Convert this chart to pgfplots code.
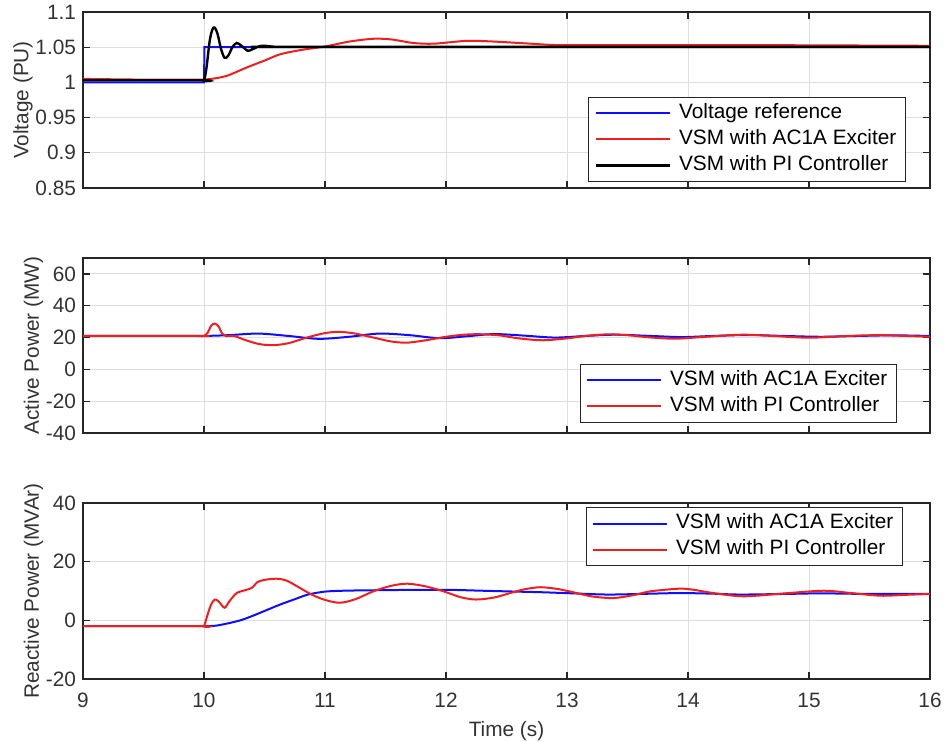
\documentclass[border=0pt]{standalone}
\usepackage{fontspec}
\setmainfont{Liberation Sans}
\usepackage{pgfplots}
\pgfplotsset{compat=1.18}
\definecolor{axgray}{gray}{0.15}
\definecolor{txtgray}{gray}{0.2}
\definecolor{gridgray}{gray}{0.87}
\definecolor{mblue}{rgb}{0.05,0.05,1}
\definecolor{mred}{rgb}{0.93,0.12,0.12}
\pgfplotsset{
  mat/.style={
    scale only axis, width=423.5pt, height=88pt,
    xmin=9, xmax=16, xtick={9,10,11,12,13,14,15,16},
    grid=major, major grid style={gridgray, line width=0.5pt},
    axis line style={axgray, line width=0.6pt},
    tick style={axgray, line width=0.6pt},
    major tick length=3.5pt,
    tick align=inside,
    font=\fontsize{10.4}{12.5}\selectfont,
    /pgf/number format/assume math mode=true,
    ticklabel style={text=txtgray, font=\fontsize{10.4}{12.5}\selectfont},
    xticklabel style={yshift=-3.5pt},
    label style={text=txtgray, font=\fontsize{10.4}{12.5}\selectfont},
    ylabel shift=-5.5pt,
    legend cell align=left,
    legend image code/.code={\draw[#1] (0pt,0pt) -- (37pt,0pt); \path (39.5pt,0pt);},
    legend style={draw=axgray, line width=0.6pt, fill=white,
      font=\fontsize{10.4}{12.5}\selectfont, inner xsep=3pt, inner ysep=1.5pt, row sep=0pt,
      nodes={inner sep=1.5pt, text height=7.6pt, text depth=2.4pt}},
    every axis plot/.append style={line width=1pt},
  },
}
\begin{document}
\begin{tikzpicture}
% ---------------- Top: Voltage ----------------
\begin{axis}[mat, at={(0,0)}, anchor=north west,
  ymin=0.85, ymax=1.1, ytick={0.85,0.9,0.95,1,1.05,1.1},
  yticklabels={0.85,0.9,0.95,1,1.05,1.1},
  xticklabels={},
  ylabel={Voltage (PU)},
  legend style={at={(1,0)}, anchor=south east, xshift=-12pt, yshift=3pt}]
\addplot[mblue] coordinates {(9,1) (10,1) (10.004,1.05) (16,1.05)};
\addlegendentry{Voltage reference}
\addplot[mred, smooth, tension=0.5] coordinates {
(9,1.005) (9.5,1.004) (9.95,1.004) (10,1.004) (10.1,1.006) (10.2,1.01) (10.35,1.021) (10.5,1.031)
(10.63,1.040) (10.8,1.046) (11.0,1.051) (11.2,1.058) (11.4,1.062) (11.55,1.061)
(11.73,1.056) (11.9,1.055) (12.17,1.059) (12.4,1.058) (12.7,1.055) (12.94,1.053)
(13.5,1.053) (14.5,1.053) (16,1.052)};
\addlegendentry{VSM with AC1A Exciter}
\addplot[black, line width=1.2pt, smooth, tension=0.55] coordinates {
(9,1.003) (9.98,1.003) (10,1.003) (10.02,1.02) (10.05,1.062) (10.08,1.078) (10.11,1.07) (10.14,1.048)
(10.17,1.035) (10.2,1.038) (10.235,1.05) (10.27,1.056) (10.31,1.052) (10.36,1.045)
(10.40,1.047) (10.45,1.051) (10.5,1.052) (10.6,1.0505) (10.8,1.0505) (16,1.0505)};
\addlegendentry{VSM with PI Controller}
\end{axis}
% ---------------- Middle: Active power ----------------
\begin{axis}[mat, at={(0,-123pt)}, anchor=north west, height=87.5pt,
  ymin=-40, ymax=70, ytick={-40,-20,0,20,40,60},
  xticklabels={},
  ylabel={Active Power (MW)},
  legend style={at={(1,0)}, anchor=south east, xshift=-16.5pt, yshift=5pt}]
\addplot[mblue, smooth, tension=0.5] coordinates {
(9,21) (9.9,21) (10,21) (10.2,21.5) (10.45,22.5) (10.7,21) (10.95,19.2) (11.2,20.5) (11.45,22.5)
(11.7,21.5) (11.95,19.6) (12.2,21) (12.4,22.2) (12.65,21.2) (12.9,20) (13.15,21)
(13.4,21.8) (13.7,21) (13.95,20.3) (14.2,21) (14.5,21.6) (14.8,21) (15.1,20.5)
(15.4,21) (15.7,21.4) (16,21)};
\addlegendentry{VSM with AC1A Exciter}
\addplot[mred, smooth, tension=0.5] coordinates {
(9,21) (9.98,21) (10,21) (10.03,23) (10.06,27.5) (10.09,28.8) (10.12,27) (10.15,22.5) (10.18,21)
(10.25,21) (10.32,19) (10.45,16) (10.57,15.2) (10.7,16.5) (10.85,20) (11.0,22.8)
(11.12,23.6) (11.25,22.5) (11.4,20) (11.55,17.5) (11.68,16.8) (11.85,18.5) (12.0,20.5)
(12.15,21.8) (12.28,22.1) (12.45,21.3) (12.6,19.5) (12.8,18.3) (13.0,19.5) (13.15,21)
(13.33,22) (13.5,21.5) (13.7,20) (13.9,19.3) (14.15,20.5) (14.45,21.8) (14.7,21)
(15.0,19.9) (15.25,20.8) (15.55,21.5) (15.8,21) (16,20.5)};
\addlegendentry{VSM with PI Controller}
\end{axis}
% ---------------- Bottom: Reactive power ----------------
\begin{axis}[mat, at={(0,-245.5pt)}, anchor=north west,
  ymin=-20, ymax=40, ytick={-20,0,20,40},
  xlabel={Time (s)},
  ylabel={Reactive Power (MVAr)},
  legend style={at={(1,1)}, anchor=north east, xshift=-13.5pt, yshift=-2pt}]
\addplot[mblue, smooth, tension=0.5] coordinates {
(9,-2) (9.9,-2) (10,-2) (10.1,-1.8) (10.2,-1) (10.3,0) (10.4,1.5) (10.5,3.2) (10.63,5.4)
(10.75,7.2) (10.86,8.8) (11.0,9.8) (11.15,10.1) (11.28,10.2) (11.5,10.3) (11.75,10.4)
(12.03,10.4) (12.3,10.1) (12.58,9.8) (12.78,9.6) (13.05,9.2) (13.33,8.8) (13.6,9.0)
(13.93,9.3) (14.2,9.1) (14.43,8.8) (14.8,9.0) (15.1,9.2) (15.5,9.0) (16,9.0)};
\addlegendentry{VSM with AC1A Exciter}
\addplot[mred, smooth, tension=0.5] coordinates {
(9,-2) (9.98,-2) (10,-2) (10.03,2) (10.06,5.5) (10.09,7.1) (10.12,6.5) (10.17,4.3) (10.21,6.5)
(10.27,9.3) (10.35,10.4) (10.4,11.2) (10.44,13.0) (10.5,13.8) (10.6,14.2) (10.68,13.6)
(10.77,11.6) (10.88,9.0) (10.99,7.1) (11.12,6.0) (11.25,7.2) (11.4,9.9) (11.55,11.8)
(11.68,12.5) (11.83,11.6) (11.98,9.9) (12.12,7.9) (12.25,7.1) (12.4,7.8) (12.53,9.3)
(12.65,10.6) (12.78,11.3) (12.92,10.7) (13.05,9.6) (13.2,8.2) (13.38,7.6) (13.55,8.6)
(13.69,9.9) (13.93,10.8) (14.05,10.4) (14.21,9.3) (14.46,8.2) (14.8,9.2) (15.12,10.1)
(15.35,9.3) (15.59,8.4) (15.8,8.7) (16,9.0)};
\addlegendentry{VSM with PI Controller}
\end{axis}
\pgfresetboundingbox
\path[use as bounding box] (-41.5pt,6pt) rectangle (431pt,-364.5pt);
\end{tikzpicture}
\end{document}
